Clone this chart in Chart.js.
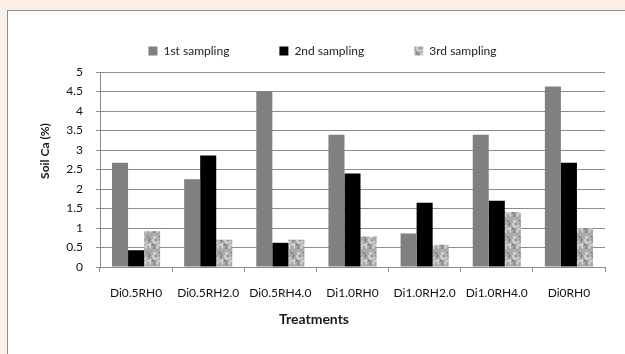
<!DOCTYPE html>
<html>
<head>
<meta charset="utf-8">
<script src="https://cdn.jsdelivr.net/npm/chart.js@4.4.0/dist/chart.umd.min.js"></script>
<style>
  html,body{margin:0;padding:0;width:625px;height:354px;overflow:hidden;background:#fcefe6}
  #box{position:absolute;left:7px;top:10px;width:640px;height:400px;border:1px solid #8c8c8c;background:#fff}
  #soilCa{position:absolute;left:0;top:0}
</style>
</head>
<body>
<div id="box"><canvas id="soilCa" width="617" height="343"></canvas></div>
<script>
/* ── 데이터 ── */
const treatments = ['Di0.5RH0','Di0.5RH2.0','Di0.5RH4.0','Di1.0RH0','Di1.0RH2.0','Di1.0RH4.0','Di0RH0'];
const sampling1  = [2.67, 2.25, 4.50, 3.39, 0.86, 3.39, 4.63];
const sampling2  = [0.43, 2.86, 0.62, 2.40, 1.65, 1.70, 2.67];
const sampling3  = [0.92, 0.70, 0.70, 0.78, 0.57, 1.41, 0.99];
const seriesNames = ['1st sampling','2nd sampling','3rd sampling'];
const yMin = 0, yMax = 5, yStep = 0.5;
const yTitle = 'Soil Ca (%)', xTitle = 'Treatments';

const FONT = 'Lato';
const GRID = '#8c8c8c';

/* ── 3rd sampling 무늬 (marble) ── */
function marblePattern(ctx){
  const p = document.createElement('canvas'); p.width = 12; p.height = 16;
  const g = p.getContext('2d');
  g.fillStyle = '#a9a9a9'; g.fillRect(0,0,12,16);
  g.strokeStyle = '#dcdcdc'; g.lineWidth = 1.4;
  g.beginPath(); g.arc(4,5,3,0.3,Math.PI*1.6); g.stroke();
  g.beginPath(); g.arc(8,12,2.5,Math.PI*0.8,Math.PI*2.2); g.stroke();
  g.strokeStyle = '#6a6a6a'; g.lineWidth = 1;
  g.beginPath(); g.moveTo(0,10); g.quadraticCurveTo(3,8,2,14); g.stroke();
  g.beginPath(); g.moveTo(7,1); g.quadraticCurveTo(11,3,9,7); g.stroke();
  g.fillStyle = '#cfcfcf';
  g.fillRect(9,8,2,2); g.fillRect(1,1,2,1);
  return ctx.createPattern(p,'repeat');
}

/* ── 범례 높이 보정 + 축 제목 ── */
const legendFit = {
  id:'legendFit',
  beforeLayout(chart){
    const lg = chart.legend;
    if(!lg || lg._fitWrapped) return;
    const orig = lg.fit;
    lg.fit = function(){ orig.call(this); this.height += 5; };
    lg._fitWrapped = true;
  }
};
const axisTitles = {
  id:'axisTitles',
  afterDraw(chart){
    const c = chart.ctx;
    c.save();
    c.fillStyle = '#1a1a1a';
    c.textAlign = 'center'; c.textBaseline = 'middle';
    c.font = `bold 12px ${FONT}`;
    c.translate(37,140); c.rotate(-Math.PI/2);
    c.fillText(yTitle,0,0);
    c.restore();
    c.save();
    c.fillStyle = '#1a1a1a';
    c.textAlign = 'center'; c.textBaseline = 'middle';
    c.font = `bold 14px ${FONT}`;
    c.fillText(xTitle,306,308);
    c.restore();
  }
};

const canvas = document.getElementById('soilCa');
const ctx = canvas.getContext('2d');

new Chart(canvas,{
  type:'bar',
  data:{
    labels:treatments,
    datasets:[
      {label:seriesNames[0], data:sampling1, backgroundColor:'#808080'},
      {label:seriesNames[1], data:sampling2, backgroundColor:'#000000'},
      {label:seriesNames[2], data:sampling3, backgroundColor:marblePattern(ctx)}
    ]
  },
  options:{
    responsive:false, animation:false,
    datasets:{bar:{categoryPercentage:0.667, barPercentage:1.0, borderWidth:0}},
    layout:{padding:{top:-16, right:20, left:32, bottom:0}},
    plugins:{
      legend:{position:'top',
        labels:{boxWidth:9, boxHeight:9, padding:50, color:'#222', font:{family:FONT, size:12}}},
      tooltip:{enabled:false}
    },
    scales:{
      x:{
        grid:{offset:true, drawOnChartArea:false, tickLength:5, color:GRID},
        border:{color:GRID},
        ticks:{color:'#111', font:{family:FONT, size:12}, padding:14, maxRotation:0, autoSkip:false},
        afterFit(s){ s.height = 87; }
      },
      y:{
        min:yMin, max:yMax,
        grid:{color:GRID, tickLength:4},
        border:{color:GRID},
        ticks:{stepSize:yStep, color:'#111', font:{family:FONT, size:12}, padding:13,
          callback:v=>String(Math.round(v*10)/10)},
        afterFit(s){ s.width = 60; }
      }
    }
  },
  plugins:[legendFit, axisTitles]
});
</script>
</body>
</html>
